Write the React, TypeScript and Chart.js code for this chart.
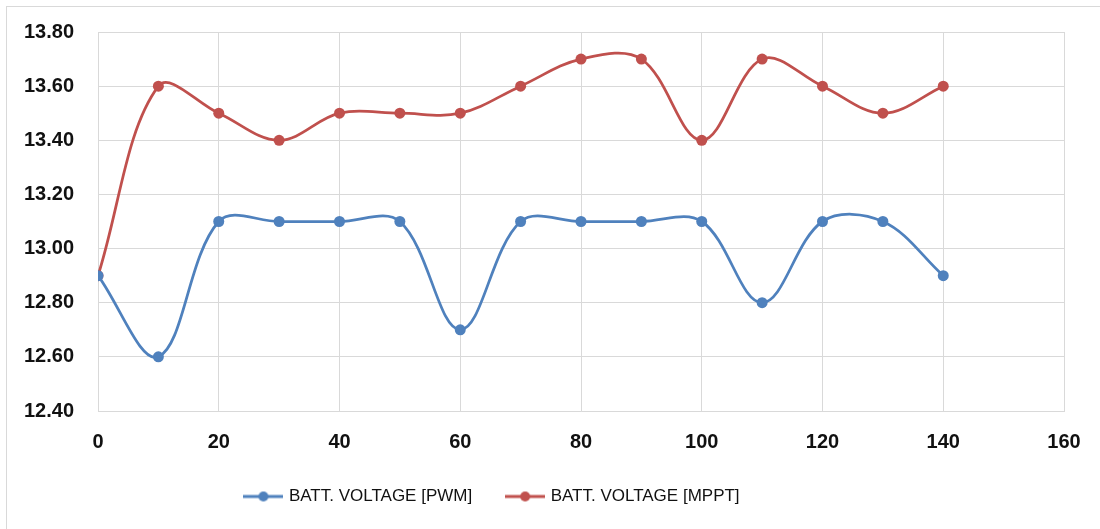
import React, { useEffect, useRef } from "react";
import { Chart, registerables } from "chart.js";

Chart.register(...registerables);

const xValues = [0, 10, 20, 30, 40, 50, 60, 70, 80, 90, 100, 110, 120, 130, 140];
const pwmValues = [12.9, 12.6, 13.1, 13.1, 13.1, 13.1, 12.7, 13.1, 13.1, 13.1, 13.1, 12.8, 13.1, 13.1, 12.9];
const mpptValues = [12.9, 13.6, 13.5, 13.4, 13.5, 13.5, 13.5, 13.6, 13.7, 13.7, 13.4, 13.7, 13.6, 13.5, 13.6];
const seriesNames = ["BATT. VOLTAGE [PWM]", "BATT. VOLTAGE [MPPT]"];
const seriesColors = ["#4F81BD", "#C0504D"];
const yMin = 12.4;
const yMax = 13.8;
const yStep = 0.2;
const xMin = 0;
const xMax = 160;
const xStep = 20;

function makeMarker(color: string): HTMLCanvasElement {
  const c = document.createElement("canvas");
  c.width = 40;
  c.height = 12;
  const ctx = c.getContext("2d")!;
  ctx.strokeStyle = color;
  ctx.lineWidth = 3;
  ctx.beginPath();
  ctx.moveTo(0, 6);
  ctx.lineTo(40, 6);
  ctx.stroke();
  ctx.fillStyle = color;
  ctx.beginPath();
  ctx.arc(20, 6, 5, 0, Math.PI * 2);
  ctx.fill();
  return c;
}

const shiftLegend = {
  id: "shiftLegend",
  afterLayout(chart: any) {
    if (chart.legend) {
      chart.legend.left -= 39;
      chart.legend.right -= 39;
    }
  },
};

export default function App() {
  const ref = useRef<HTMLCanvasElement | null>(null);

  useEffect(() => {
    if (!ref.current) return;
    const markers = seriesColors.map(makeMarker);
    const mk = (vals: number[]) => xValues.map((x, i) => ({ x, y: vals[i] }));
    const chart = new Chart(ref.current, {
      type: "line",
      data: {
        datasets: [
          {
            label: seriesNames[0],
            data: mk(pwmValues),
            borderColor: seriesColors[0],
            backgroundColor: seriesColors[0],
            borderWidth: 2.75,
            pointRadius: 5.5,
            pointBorderWidth: 0,
            tension: 0.36,
          },
          {
            label: seriesNames[1],
            data: mk(mpptValues),
            borderColor: seriesColors[1],
            backgroundColor: seriesColors[1],
            borderWidth: 2.75,
            pointRadius: 5.5,
            pointBorderWidth: 0,
            tension: 0.36,
          },
        ],
      },
      plugins: [shiftLegend],
      options: {
        animation: false,
        responsive: false,
        maintainAspectRatio: false,
        layout: { padding: { left: 0, top: 32, right: 36, bottom: 14 } },
        plugins: {
          tooltip: { enabled: false },
          legend: {
            position: "bottom",
            labels: {
              usePointStyle: true,
              pointStyleWidth: 34,
              boxHeight: 12,
              padding: 36,
              color: "#111",
              font: { family: "Liberation Sans", size: 17 },
              generateLabels: (c: any) => {
                const items = Chart.defaults.plugins.legend.labels.generateLabels(c);
                return items.map((it: any, i: number) => ({ ...it, pointStyle: markers[i] }));
              },
            },
          },
        },
        scales: {
          x: {
            type: "linear",
            min: xMin,
            max: xMax,
            ticks: {
              stepSize: xStep,
              padding: 19,
              color: "#111",
              font: { family: "Liberation Sans", size: 20, weight: "bold" },
            },
            grid: { color: "#d9d9d9", drawTicks: false },
            border: { color: "#d9d9d9" },
            afterFit: (s: any) => {
              s.height = 41;
              s.paddingLeft = 0;
              s.paddingRight = 0;
            },
          },
          y: {
            min: yMin,
            max: yMax,
            ticks: {
              stepSize: yStep,
              padding: 24,
              color: "#111",
              font: { family: "Liberation Sans", size: 20, weight: "bold" },
              callback: (v: any) => Number(v).toFixed(2),
            },
            grid: { color: "#d9d9d9", drawTicks: false },
            border: { color: "#d9d9d9" },
            afterFit: (s: any) => {
              s.width = 98;
              s.paddingTop = 0;
              s.paddingBottom = 0;
            },
          },
        },
      },
    } as any);
    return () => chart.destroy();
  }, []);

  return (
    <>
      <div
        style={{
          position: "absolute",
          left: 6,
          top: 6,
          width: 1110,
          height: 540,
          border: "1px solid #d9d9d9",
          boxSizing: "border-box",
        }}
      />
      <canvas
        ref={ref}
        width={1100}
        height={529}
        style={{ position: "absolute", left: 0, top: 0, width: 1100, height: 529 }}
      />
    </>
  );
}
